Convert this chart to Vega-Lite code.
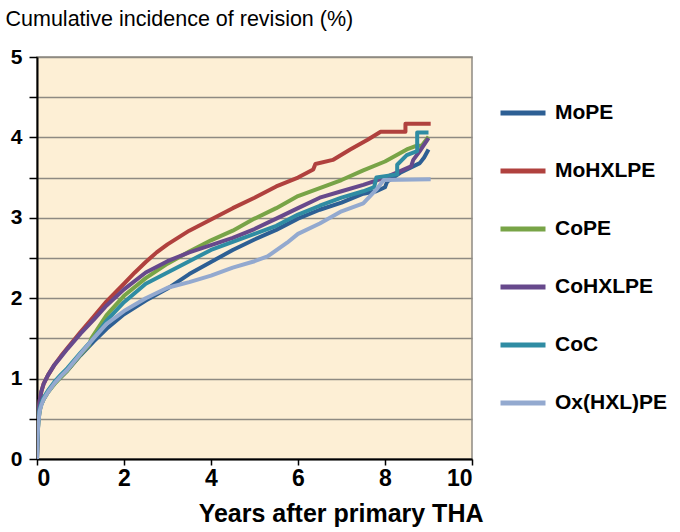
{
  "$schema": "https://vega.github.io/schema/vega-lite/v6.json",
  "width": 435,
  "height": 402,
  "autosize": {"type": "none"},
  "padding": {"left": 37, "top": 57, "right": 208, "bottom": 73},
  "background": "white",
  "config": {
    "font": "Liberation Sans",
    "view": {"fill": "#FDEFD5", "stroke": "#8E8A82", "strokeWidth": 1.5}
  },
  "datasets": {
    "km": [
      {"s": "MoPE", "t": 0, "v": 0}, {"s": "MoPE", "t": 0.01, "v": 0.25}, {"s": "MoPE", "t": 0.03, "v": 0.45}, {"s": "MoPE", "t": 0.06, "v": 0.6}, {"s": "MoPE", "t": 0.1, "v": 0.68}, {"s": "MoPE", "t": 0.15, "v": 0.74}, {"s": "MoPE", "t": 0.25, "v": 0.83}, {"s": "MoPE", "t": 0.4, "v": 0.94}, {"s": "MoPE", "t": 0.55, "v": 1.02}, {"s": "MoPE", "t": 0.7, "v": 1.1}, {"s": "MoPE", "t": 1.0, "v": 1.29}, {"s": "MoPE", "t": 1.3, "v": 1.46}, {"s": "MoPE", "t": 1.6, "v": 1.62}, {"s": "MoPE", "t": 2.0, "v": 1.8}, {"s": "MoPE", "t": 2.5, "v": 1.97}, {"s": "MoPE", "t": 3.0, "v": 2.12}, {"s": "MoPE", "t": 3.5, "v": 2.3}, {"s": "MoPE", "t": 4.0, "v": 2.45}, {"s": "MoPE", "t": 4.5, "v": 2.6}, {"s": "MoPE", "t": 5.0, "v": 2.73}, {"s": "MoPE", "t": 5.5, "v": 2.85}, {"s": "MoPE", "t": 6.0, "v": 2.99}, {"s": "MoPE", "t": 6.5, "v": 3.1}, {"s": "MoPE", "t": 7.0, "v": 3.19}, {"s": "MoPE", "t": 7.5, "v": 3.3}, {"s": "MoPE", "t": 7.8, "v": 3.33}, {"s": "MoPE", "t": 8.0, "v": 3.38}, {"s": "MoPE", "t": 8.05, "v": 3.45}, {"s": "MoPE", "t": 8.35, "v": 3.56}, {"s": "MoPE", "t": 8.8, "v": 3.68}, {"s": "MoPE", "t": 8.9, "v": 3.75}, {"s": "MoPE", "t": 9.0, "v": 3.85},

      {"s": "MoHXLPE", "t": 0, "v": 0}, {"s": "MoHXLPE", "t": 0.01, "v": 0.3}, {"s": "MoHXLPE", "t": 0.03, "v": 0.55}, {"s": "MoHXLPE", "t": 0.06, "v": 0.72}, {"s": "MoHXLPE", "t": 0.1, "v": 0.84}, {"s": "MoHXLPE", "t": 0.15, "v": 0.93}, {"s": "MoHXLPE", "t": 0.25, "v": 1.04}, {"s": "MoHXLPE", "t": 0.4, "v": 1.17}, {"s": "MoHXLPE", "t": 0.55, "v": 1.28}, {"s": "MoHXLPE", "t": 0.7, "v": 1.38}, {"s": "MoHXLPE", "t": 1.0, "v": 1.58}, {"s": "MoHXLPE", "t": 1.3, "v": 1.77}, {"s": "MoHXLPE", "t": 1.6, "v": 1.96}, {"s": "MoHXLPE", "t": 2.0, "v": 2.18}, {"s": "MoHXLPE", "t": 2.25, "v": 2.32}, {"s": "MoHXLPE", "t": 2.5, "v": 2.45}, {"s": "MoHXLPE", "t": 2.75, "v": 2.57}, {"s": "MoHXLPE", "t": 3.0, "v": 2.67}, {"s": "MoHXLPE", "t": 3.5, "v": 2.84}, {"s": "MoHXLPE", "t": 4.0, "v": 2.98}, {"s": "MoHXLPE", "t": 4.5, "v": 3.12}, {"s": "MoHXLPE", "t": 5.0, "v": 3.25}, {"s": "MoHXLPE", "t": 5.5, "v": 3.39}, {"s": "MoHXLPE", "t": 6.0, "v": 3.5}, {"s": "MoHXLPE", "t": 6.35, "v": 3.6}, {"s": "MoHXLPE", "t": 6.4, "v": 3.67}, {"s": "MoHXLPE", "t": 6.8, "v": 3.72}, {"s": "MoHXLPE", "t": 7.2, "v": 3.85}, {"s": "MoHXLPE", "t": 7.6, "v": 3.97}, {"s": "MoHXLPE", "t": 7.9, "v": 4.07}, {"s": "MoHXLPE", "t": 8.47, "v": 4.07}, {"s": "MoHXLPE", "t": 8.47, "v": 4.17}, {"s": "MoHXLPE", "t": 9.05, "v": 4.17},

      {"s": "CoPE", "t": 0, "v": 0}, {"s": "CoPE", "t": 0.01, "v": 0.25}, {"s": "CoPE", "t": 0.03, "v": 0.46}, {"s": "CoPE", "t": 0.06, "v": 0.6}, {"s": "CoPE", "t": 0.1, "v": 0.68}, {"s": "CoPE", "t": 0.15, "v": 0.74}, {"s": "CoPE", "t": 0.25, "v": 0.83}, {"s": "CoPE", "t": 0.4, "v": 0.93}, {"s": "CoPE", "t": 0.55, "v": 1.02}, {"s": "CoPE", "t": 0.7, "v": 1.1}, {"s": "CoPE", "t": 1.0, "v": 1.3}, {"s": "CoPE", "t": 1.2, "v": 1.42}, {"s": "CoPE", "t": 1.25, "v": 1.5}, {"s": "CoPE", "t": 1.6, "v": 1.79}, {"s": "CoPE", "t": 2.0, "v": 2.03}, {"s": "CoPE", "t": 2.5, "v": 2.25}, {"s": "CoPE", "t": 3.0, "v": 2.43}, {"s": "CoPE", "t": 3.5, "v": 2.58}, {"s": "CoPE", "t": 4.0, "v": 2.72}, {"s": "CoPE", "t": 4.5, "v": 2.84}, {"s": "CoPE", "t": 5.0, "v": 2.99}, {"s": "CoPE", "t": 5.5, "v": 3.12}, {"s": "CoPE", "t": 6.0, "v": 3.27}, {"s": "CoPE", "t": 6.5, "v": 3.37}, {"s": "CoPE", "t": 7.0, "v": 3.47}, {"s": "CoPE", "t": 7.5, "v": 3.59}, {"s": "CoPE", "t": 8.0, "v": 3.7}, {"s": "CoPE", "t": 8.5, "v": 3.85}, {"s": "CoPE", "t": 8.7, "v": 3.89}, {"s": "CoPE", "t": 8.85, "v": 3.9}, {"s": "CoPE", "t": 9.0, "v": 4.01},

      {"s": "CoHXLPE", "t": 0, "v": 0}, {"s": "CoHXLPE", "t": 0.01, "v": 0.3}, {"s": "CoHXLPE", "t": 0.03, "v": 0.55}, {"s": "CoHXLPE", "t": 0.06, "v": 0.72}, {"s": "CoHXLPE", "t": 0.1, "v": 0.84}, {"s": "CoHXLPE", "t": 0.15, "v": 0.93}, {"s": "CoHXLPE", "t": 0.25, "v": 1.04}, {"s": "CoHXLPE", "t": 0.4, "v": 1.17}, {"s": "CoHXLPE", "t": 0.55, "v": 1.27}, {"s": "CoHXLPE", "t": 0.7, "v": 1.37}, {"s": "CoHXLPE", "t": 1.0, "v": 1.56}, {"s": "CoHXLPE", "t": 1.3, "v": 1.73}, {"s": "CoHXLPE", "t": 1.6, "v": 1.91}, {"s": "CoHXLPE", "t": 2.0, "v": 2.11}, {"s": "CoHXLPE", "t": 2.5, "v": 2.32}, {"s": "CoHXLPE", "t": 3.0, "v": 2.46}, {"s": "CoHXLPE", "t": 3.5, "v": 2.57}, {"s": "CoHXLPE", "t": 4.0, "v": 2.66}, {"s": "CoHXLPE", "t": 4.5, "v": 2.75}, {"s": "CoHXLPE", "t": 5.0, "v": 2.86}, {"s": "CoHXLPE", "t": 5.5, "v": 2.99}, {"s": "CoHXLPE", "t": 6.0, "v": 3.12}, {"s": "CoHXLPE", "t": 6.5, "v": 3.25}, {"s": "CoHXLPE", "t": 7.0, "v": 3.33}, {"s": "CoHXLPE", "t": 7.5, "v": 3.41}, {"s": "CoHXLPE", "t": 8.0, "v": 3.5}, {"s": "CoHXLPE", "t": 8.35, "v": 3.58}, {"s": "CoHXLPE", "t": 8.6, "v": 3.64}, {"s": "CoHXLPE", "t": 8.65, "v": 3.72}, {"s": "CoHXLPE", "t": 8.8, "v": 3.83}, {"s": "CoHXLPE", "t": 9.0, "v": 3.99},

      {"s": "CoC", "t": 0, "v": 0}, {"s": "CoC", "t": 0.01, "v": 0.26}, {"s": "CoC", "t": 0.03, "v": 0.47}, {"s": "CoC", "t": 0.06, "v": 0.62}, {"s": "CoC", "t": 0.1, "v": 0.7}, {"s": "CoC", "t": 0.15, "v": 0.76}, {"s": "CoC", "t": 0.25, "v": 0.85}, {"s": "CoC", "t": 0.4, "v": 0.96}, {"s": "CoC", "t": 0.55, "v": 1.05}, {"s": "CoC", "t": 0.7, "v": 1.13}, {"s": "CoC", "t": 1.0, "v": 1.32}, {"s": "CoC", "t": 1.3, "v": 1.5}, {"s": "CoC", "t": 1.6, "v": 1.72}, {"s": "CoC", "t": 2.0, "v": 1.95}, {"s": "CoC", "t": 2.5, "v": 2.18}, {"s": "CoC", "t": 3.0, "v": 2.32}, {"s": "CoC", "t": 3.5, "v": 2.46}, {"s": "CoC", "t": 4.0, "v": 2.6}, {"s": "CoC", "t": 4.5, "v": 2.7}, {"s": "CoC", "t": 5.0, "v": 2.8}, {"s": "CoC", "t": 5.5, "v": 2.9}, {"s": "CoC", "t": 6.0, "v": 3.04}, {"s": "CoC", "t": 6.5, "v": 3.15}, {"s": "CoC", "t": 7.0, "v": 3.25}, {"s": "CoC", "t": 7.5, "v": 3.33}, {"s": "CoC", "t": 7.75, "v": 3.38}, {"s": "CoC", "t": 7.8, "v": 3.5}, {"s": "CoC", "t": 8.28, "v": 3.54}, {"s": "CoC", "t": 8.28, "v": 3.66}, {"s": "CoC", "t": 8.5, "v": 3.78}, {"s": "CoC", "t": 8.74, "v": 3.83}, {"s": "CoC", "t": 8.74, "v": 4.06}, {"s": "CoC", "t": 9.0, "v": 4.06},

      {"s": "Ox(HXL)PE", "t": 0, "v": 0}, {"s": "Ox(HXL)PE", "t": 0.01, "v": 0.24}, {"s": "Ox(HXL)PE", "t": 0.03, "v": 0.44}, {"s": "Ox(HXL)PE", "t": 0.06, "v": 0.59}, {"s": "Ox(HXL)PE", "t": 0.1, "v": 0.67}, {"s": "Ox(HXL)PE", "t": 0.15, "v": 0.74}, {"s": "Ox(HXL)PE", "t": 0.25, "v": 0.83}, {"s": "Ox(HXL)PE", "t": 0.4, "v": 0.94}, {"s": "Ox(HXL)PE", "t": 0.55, "v": 1.03}, {"s": "Ox(HXL)PE", "t": 0.7, "v": 1.11}, {"s": "Ox(HXL)PE", "t": 1.0, "v": 1.31}, {"s": "Ox(HXL)PE", "t": 1.3, "v": 1.5}, {"s": "Ox(HXL)PE", "t": 1.6, "v": 1.68}, {"s": "Ox(HXL)PE", "t": 2.0, "v": 1.84}, {"s": "Ox(HXL)PE", "t": 2.5, "v": 2.0}, {"s": "Ox(HXL)PE", "t": 3.0, "v": 2.13}, {"s": "Ox(HXL)PE", "t": 3.5, "v": 2.2}, {"s": "Ox(HXL)PE", "t": 4.0, "v": 2.28}, {"s": "Ox(HXL)PE", "t": 4.5, "v": 2.38}, {"s": "Ox(HXL)PE", "t": 5.0, "v": 2.46}, {"s": "Ox(HXL)PE", "t": 5.3, "v": 2.52}, {"s": "Ox(HXL)PE", "t": 5.75, "v": 2.69}, {"s": "Ox(HXL)PE", "t": 6.0, "v": 2.8}, {"s": "Ox(HXL)PE", "t": 6.5, "v": 2.93}, {"s": "Ox(HXL)PE", "t": 7.0, "v": 3.08}, {"s": "Ox(HXL)PE", "t": 7.5, "v": 3.18}, {"s": "Ox(HXL)PE", "t": 7.8, "v": 3.35}, {"s": "Ox(HXL)PE", "t": 7.97, "v": 3.47}, {"s": "Ox(HXL)PE", "t": 9.05, "v": 3.48}
    ]
  },
  "data": {"name": "km"},
  "mark": {"type": "line", "strokeWidth": 4, "strokeJoin": "round", "clip": true},
  "encoding": {
    "x": {
      "field": "t", "type": "quantitative",
      "scale": {"domain": [0, 10], "nice": false},
      "axis": {
        "values": [0, 2, 4, 6, 8, 10],
        "grid": false,
        "domainColor": "black", "domainWidth": 2,
        "tickColor": "black", "tickWidth": 1.5, "tickSize": 6,
        "labelFontSize": 23, "labelFontWeight": "bold", "labelColor": "black", "labelPadding": 2,
        "title": "Years after primary THA",
        "titleFontSize": 25, "titleFontWeight": "bold", "titleColor": "black",
        "titleAnchor": "end", "titleAlign": "right", "titleBaseline": "alphabetic",
        "titleX": 446, "titleY": 62
      }
    },
    "y": {
      "field": "v", "type": "quantitative",
      "scale": {"domain": [0, 5], "nice": false},
      "axis": {
        "values": [0, 0.5, 1, 1.5, 2, 2.5, 3, 3.5, 4, 4.5, 5],
        "labelExpr": "datum.value % 1 === 0 ? '' + datum.value : ''",
        "grid": true, "gridColor": "#8E8A82", "gridWidth": 1.5, "gridOpacity": 1,
        "domainColor": "black", "domainWidth": 2,
        "tickColor": "black", "tickWidth": 1.5, "tickSize": 8,
        "labelFontSize": 21, "labelFontWeight": "bold", "labelColor": "black", "labelPadding": 7,
        "title": "Cumulative incidence of revision (%)",
        "titleAngle": 0, "titleAlign": "left", "titleBaseline": "alphabetic",
        "titleX": -32, "titleY": -32,
        "titleFontSize": 21.5, "titleFontWeight": "normal", "titleColor": "black"
      }
    },
    "color": {
      "field": "s", "type": "nominal",
      "scale": {
        "domain": ["MoPE", "MoHXLPE", "CoPE", "CoHXLPE", "CoC", "Ox(HXL)PE"],
        "range": ["#2D5F94", "#B0413E", "#78A447", "#67498C", "#2F8CA3", "#93A9CF"]
      },
      "legend": {
        "orient": "none", "legendX": 461, "legendY": 31, "padding": 0,
        "title": null,
        "symbolType": "stroke", "symbolSize": 2025, "symbolStrokeWidth": 5,
        "labelFontSize": 21, "labelFontWeight": "bold", "labelColor": "black",
        "labelOffset": 7, "rowPadding": 23, "labelLimit": 300
      }
    },
    "order": [{"field": "t"}, {"field": "v"}]
  }
}
